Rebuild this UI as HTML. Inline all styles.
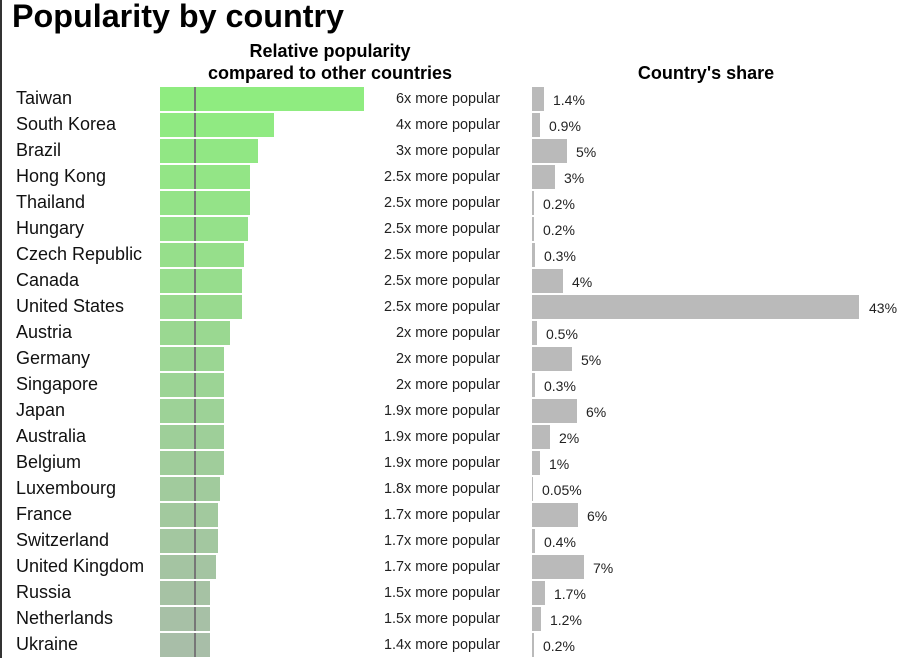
<!DOCTYPE html>
<html><head><meta charset="utf-8"><style>
body{margin:0;width:898px;height:658px;overflow:hidden;background:#fff;font-family:"Liberation Sans",Arial,sans-serif;position:relative}
.b{position:absolute;left:0;top:0;width:2px;height:658px;background:#333}
h1{position:absolute;left:12px;top:-2px;margin:0;font-size:32.3px;font-weight:bold;color:#000}
.h{position:absolute;font-weight:bold;font-size:18px;text-align:center;color:#000;line-height:22px}
.r{position:absolute;left:0;width:898px;height:26px}
.n{position:absolute;left:16px;top:-1px;font-size:18px;line-height:24px;color:#111}
.g{position:absolute;left:160px;top:0;height:24px}
.ln{position:absolute;left:194px;top:0;width:2px;height:24px;background:#777}
.p{position:absolute;right:398px;top:0px;font-size:14.4px;line-height:24px;color:#222}
.s{position:absolute;left:532px;top:0;height:24px;background:#bababa}
.v{position:absolute;top:1px;font-size:14px;line-height:24px;color:#222}
</style></head><body>
<div class="b"></div>
<h1>Popularity by country</h1>
<div class="h" style="left:160px;width:340px;top:40px">Relative popularity<br>compared to other countries</div>
<div class="h" style="left:560px;width:292px;top:62px">Country's share</div>

<div class="r" style="top:87px"><div class="n">Taiwan</div><div class="g" style="width:204px;background:rgb(143,236,128)"></div><div class="ln"></div><div class="p">6x more popular</div><div class="s" style="width:12px"></div><div class="v" style="left:553px">1.4%</div></div>
<div class="r" style="top:113px"><div class="n">South Korea</div><div class="g" style="width:114px;background:rgb(144,234,130)"></div><div class="ln"></div><div class="p">4x more popular</div><div class="s" style="width:8px"></div><div class="v" style="left:549px">0.9%</div></div>
<div class="r" style="top:139px"><div class="n">Brazil</div><div class="g" style="width:98px;background:rgb(145,231,132)"></div><div class="ln"></div><div class="p">3x more popular</div><div class="s" style="width:35px"></div><div class="v" style="left:576px">5%</div></div>
<div class="r" style="top:165px"><div class="n">Hong Kong</div><div class="g" style="width:90px;background:rgb(147,229,134)"></div><div class="ln"></div><div class="p">2.5x more popular</div><div class="s" style="width:23px"></div><div class="v" style="left:564px">3%</div></div>
<div class="r" style="top:191px"><div class="n">Thailand</div><div class="g" style="width:90px;background:rgb(148,227,136)"></div><div class="ln"></div><div class="p">2.5x more popular</div><div class="s" style="width:2px"></div><div class="v" style="left:543px">0.2%</div></div>
<div class="r" style="top:217px"><div class="n">Hungary</div><div class="g" style="width:88px;background:rgb(149,225,138)"></div><div class="ln"></div><div class="p">2.5x more popular</div><div class="s" style="width:2px"></div><div class="v" style="left:543px">0.2%</div></div>
<div class="r" style="top:243px"><div class="n">Czech Republic</div><div class="g" style="width:84px;background:rgb(150,223,139)"></div><div class="ln"></div><div class="p">2.5x more popular</div><div class="s" style="width:3px"></div><div class="v" style="left:544px">0.3%</div></div>
<div class="r" style="top:269px"><div class="n">Canada</div><div class="g" style="width:82px;background:rgb(151,221,141)"></div><div class="ln"></div><div class="p">2.5x more popular</div><div class="s" style="width:31px"></div><div class="v" style="left:572px">4%</div></div>
<div class="r" style="top:295px"><div class="n">United States</div><div class="g" style="width:82px;background:rgb(153,218,143)"></div><div class="ln"></div><div class="p">2.5x more popular</div><div class="s" style="width:327px"></div><div class="v" style="left:869px">43%</div></div>
<div class="r" style="top:321px"><div class="n">Austria</div><div class="g" style="width:70px;background:rgb(154,216,145)"></div><div class="ln"></div><div class="p">2x more popular</div><div class="s" style="width:5px"></div><div class="v" style="left:546px">0.5%</div></div>
<div class="r" style="top:347px"><div class="n">Germany</div><div class="g" style="width:64px;background:rgb(155,214,147)"></div><div class="ln"></div><div class="p">2x more popular</div><div class="s" style="width:40px"></div><div class="v" style="left:581px">5%</div></div>
<div class="r" style="top:373px"><div class="n">Singapore</div><div class="g" style="width:64px;background:rgb(156,212,149)"></div><div class="ln"></div><div class="p">2x more popular</div><div class="s" style="width:3px"></div><div class="v" style="left:544px">0.3%</div></div>
<div class="r" style="top:399px"><div class="n">Japan</div><div class="g" style="width:64px;background:rgb(157,210,151)"></div><div class="ln"></div><div class="p">1.9x more popular</div><div class="s" style="width:45px"></div><div class="v" style="left:586px">6%</div></div>
<div class="r" style="top:425px"><div class="n">Australia</div><div class="g" style="width:64px;background:rgb(158,207,153)"></div><div class="ln"></div><div class="p">1.9x more popular</div><div class="s" style="width:18px"></div><div class="v" style="left:559px">2%</div></div>
<div class="r" style="top:451px"><div class="n">Belgium</div><div class="g" style="width:64px;background:rgb(160,205,155)"></div><div class="ln"></div><div class="p">1.9x more popular</div><div class="s" style="width:8px"></div><div class="v" style="left:549px">1%</div></div>
<div class="r" style="top:477px"><div class="n">Luxembourg</div><div class="g" style="width:60px;background:rgb(161,203,157)"></div><div class="ln"></div><div class="p">1.8x more popular</div><div class="s" style="width:1px"></div><div class="v" style="left:542px">0.05%</div></div>
<div class="r" style="top:503px"><div class="n">France</div><div class="g" style="width:58px;background:rgb(162,201,158)"></div><div class="ln"></div><div class="p">1.7x more popular</div><div class="s" style="width:46px"></div><div class="v" style="left:587px">6%</div></div>
<div class="r" style="top:529px"><div class="n">Switzerland</div><div class="g" style="width:58px;background:rgb(163,199,160)"></div><div class="ln"></div><div class="p">1.7x more popular</div><div class="s" style="width:3px"></div><div class="v" style="left:544px">0.4%</div></div>
<div class="r" style="top:555px"><div class="n">United Kingdom</div><div class="g" style="width:56px;background:rgb(164,196,162)"></div><div class="ln"></div><div class="p">1.7x more popular</div><div class="s" style="width:52px"></div><div class="v" style="left:593px">7%</div></div>
<div class="r" style="top:581px"><div class="n">Russia</div><div class="g" style="width:50px;background:rgb(166,194,164)"></div><div class="ln"></div><div class="p">1.5x more popular</div><div class="s" style="width:13px"></div><div class="v" style="left:554px">1.7%</div></div>
<div class="r" style="top:607px"><div class="n">Netherlands</div><div class="g" style="width:50px;background:rgb(167,192,166)"></div><div class="ln"></div><div class="p">1.5x more popular</div><div class="s" style="width:9px"></div><div class="v" style="left:550px">1.2%</div></div>
<div class="r" style="top:633px"><div class="n">Ukraine</div><div class="g" style="width:50px;background:rgb(168,190,168)"></div><div class="ln"></div><div class="p">1.4x more popular</div><div class="s" style="width:2px"></div><div class="v" style="left:543px">0.2%</div></div>
</body></html>
